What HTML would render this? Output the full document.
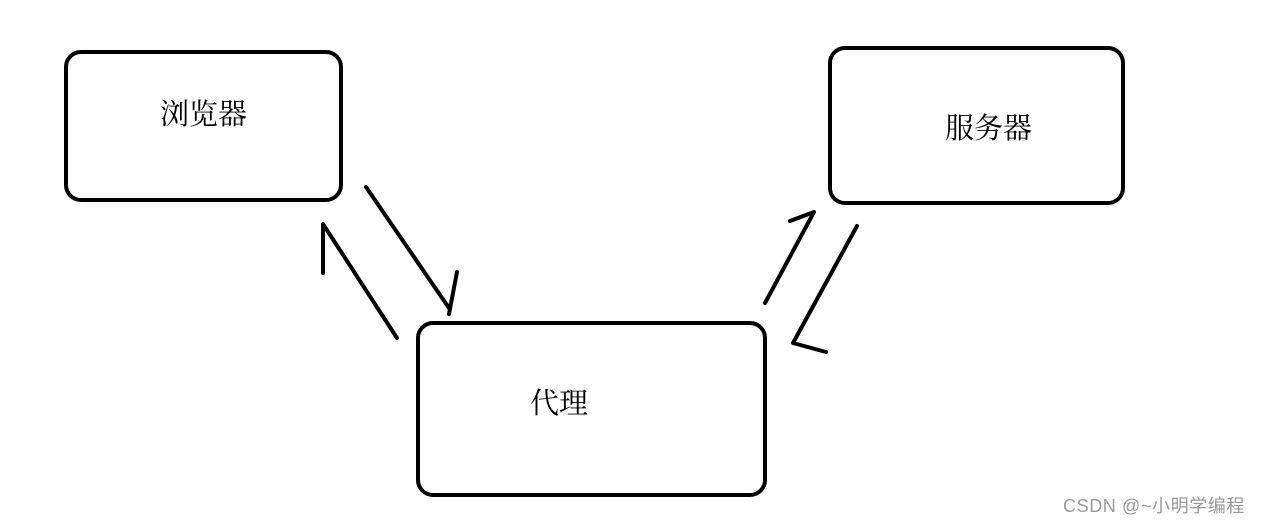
<!DOCTYPE html>
<html><head><meta charset="utf-8"><style>
html,body{margin:0;padding:0;background:#fff;}
body{width:1262px;height:522px;position:relative;overflow:hidden;}
.t{position:absolute;font-family:"Liberation Serif","Noto Serif CJK SC",serif;font-size:29px;color:#000;line-height:1;}
.w{position:absolute;left:1063px;top:492px;font-family:"Liberation Sans","Noto Sans CJK SC",sans-serif;font-size:18px;letter-spacing:0.6px;color:#999;}
</style></head><body>
<svg width="1262" height="522" style="position:absolute;left:0;top:0">
<g fill="none" stroke="#000" stroke-width="4" stroke-linecap="round" stroke-linejoin="round">
<rect x="66" y="52" width="275" height="148" rx="15"/>
<rect x="830" y="48" width="293" height="155" rx="15"/>
<rect x="418" y="323" width="347" height="172" rx="15"/>
<polyline points="366,187 449,308"/>
<polyline points="449,314 457,272"/>
<polyline points="397,338 323,224 323,273"/>
<polyline points="765,303 814,212 790,221"/>
<polyline points="857,226 793,343 826,352"/>
</g></svg>
<div class="t" style="left:160px;top:101px">浏览器</div>
<div class="t" style="left:945px;top:115px">服务器</div>
<div class="t" style="left:530px;top:390px">代理</div>
<div class="w">CSDN @~小明学编程</div>
</body></html>
